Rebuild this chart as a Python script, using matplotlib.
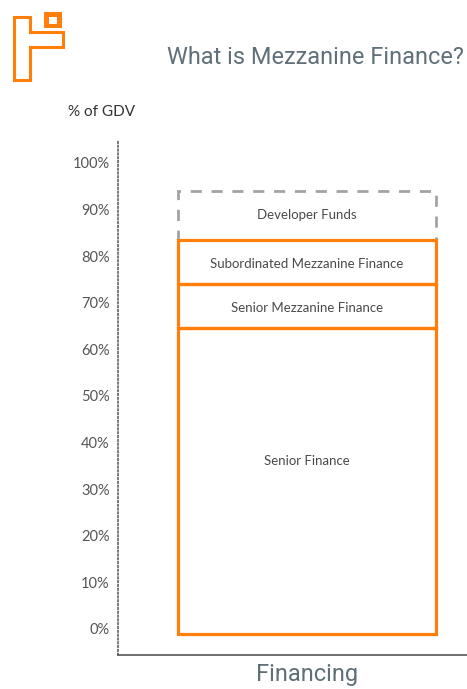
import matplotlib.pyplot as plt
import matplotlib.patches as patches
import numpy as np

# funding stack (values in % of GDV)
segments = ['Senior Finance', 'Senior Mezzanine Finance',
            'Subordinated Mezzanine Finance', 'Developer Funds']
stack_base = -1
stack_tops = [64.5, 74, 83.5, 94]
category = 'Financing'
yticks = [0, 10, 20, 30, 40, 50, 60, 70, 80, 90, 100]
ytick_labels = [f'{v}%' for v in yticks]

orange = '#ff7f0a'
grey_dash = '#a3a3a3'
slate = '#5f7078'
body_font = dict(family='Lato')

fig = plt.figure(figsize=(4.67, 6.89), dpi=100)

# logo overlay in pixel coords
lax = fig.add_axes([0, 0, 1, 1])
lax.set_xlim(0, 467)
lax.set_ylim(689, 0)
lax.axis('off')
logo = [(14, 17), (30, 17), (30, 32), (63, 32), (63, 47), (30, 47), (30, 80), (14, 80)]
lax.add_patch(patches.Polygon(logo, closed=True, fill=False, edgecolor=orange, lw=2.2, joinstyle='miter'))
lax.add_patch(patches.Rectangle((44, 12), 18, 16, facecolor=orange, edgecolor='none'))
lax.add_patch(patches.Rectangle((49, 17), 8, 7, facecolor='white', edgecolor='none'))

ax = fig.add_axes([118 / 467, 34 / 689, 349 / 467, 514 / 689])
ax.set_ylim(-5.6, 104.7)
ax.set_xlim(-0.542, 0.459)

bottoms = [stack_base] + stack_tops[:-1]
heights = np.array(stack_tops) - np.array(bottoms)
label_frac = [0.565, 0.45, 0.45, 0.5]

# developer funds first (dashed grey), then orange boxes on top
ax.bar(0, heights[3], bottom=bottoms[3], width=0.74, fill=False,
       edgecolor=grey_dash, linewidth=2.0, linestyle=(0, (4, 3.5)), zorder=2)
for i in range(3):
    ax.bar(0, heights[i], bottom=bottoms[i], width=0.74, fill=False,
           edgecolor=orange, linewidth=2.3, zorder=3)
for i, name in enumerate(segments):
    ax.text(0, bottoms[i] + heights[i] * label_frac[i], name, ha='center', va='center',
            fontsize=9.5, color='#4a4a4a', **body_font)

ax.set_yticks(yticks)
ax.set_yticklabels(ytick_labels, fontsize=10.5, color='#555555', **body_font)
ax.tick_params(axis='y', length=0, pad=6)
ax.set_xticks([0])
ax.set_xticklabels([category], fontsize=17, color=slate, family='Roboto')
ax.tick_params(axis='x', length=0, pad=6)

for s in ['top', 'right']:
    ax.spines[s].set_visible(False)
ax.spines['left'].set_linestyle((0, (1, 1.5)))
ax.spines['left'].set_color('#555555')
ax.spines['left'].set_linewidth(1.1)
ax.spines['bottom'].set_color('#555555')
ax.spines['bottom'].set_linewidth(1.2)

fig.text(315 / 467, 1 - 57 / 689, 'What is Mezzanine Finance?', ha='center', va='center',
         fontsize=16.9, color=slate, family='Roboto')
fig.text(102 / 467, 1 - 112 / 689, '% of GDV', ha='center', va='center',
         fontsize=11, color='#333333', **body_font)

fig.savefig('out.png', dpi=100)
